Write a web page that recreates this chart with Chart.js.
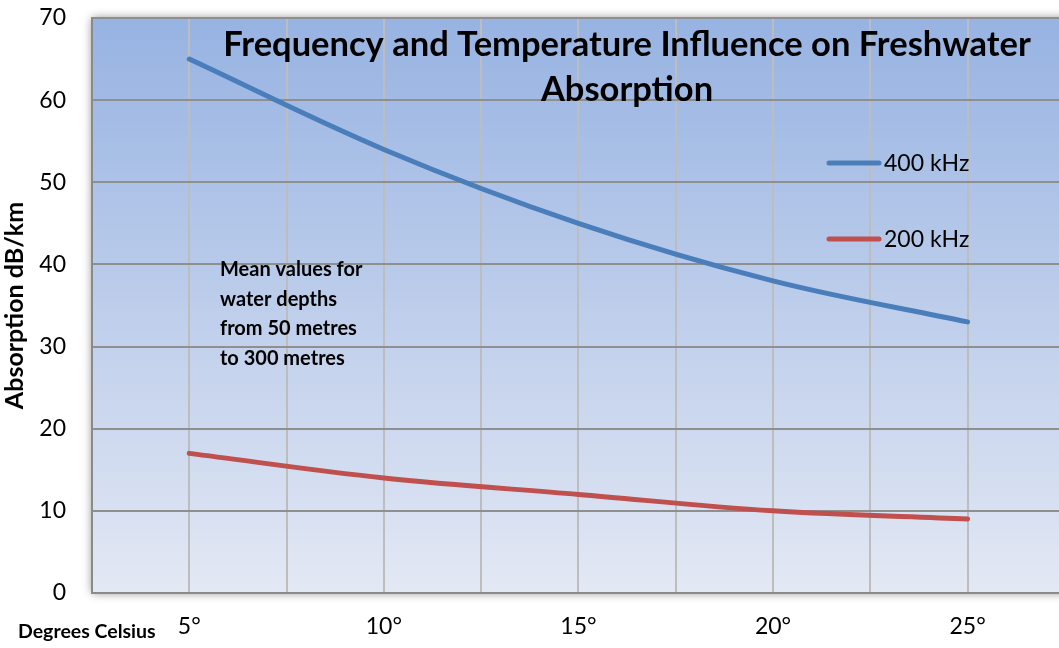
<!DOCTYPE html>
<html>
<head>
<meta charset="utf-8">
<script src="https://cdn.jsdelivr.net/npm/chart.js@4.4.1/dist/chart.umd.min.js"></script>
<style>
    html, body { margin: 0; padding: 0; background: #ffffff; }
    #wrap { width: 1059px; height: 648px; }
</style>
</head>
<body>
<div id="wrap"><canvas id="grafico"></canvas></div>
<script>
// datos
const temperaturas = [5, 10, 15, 20, 25];
const absorcion400 = [65, 54, 45, 38, 33];
const absorcion200 = [17, 14, 12, 10, 9];
const etiquetasSeries = ['400 kHz', '200 kHz'];
const ticksY = [0, 10, 20, 30, 40, 50, 60, 70];
const ticksX = [2.5, 5, 7.5, 10, 12.5, 15, 17.5, 20, 22.5, 25];
const tituloLineas = ['Frequency and Temperature Influence on Freshwater', 'Absorption'];
const notaLineas = ['Mean values for', 'water depths', 'from 50 metres', 'to 300 metres'];
const tituloX = 'Degrees Celsius';

const FUENTE = 'Lato, "Open Sans", sans-serif';
const colores = ['#4a7ebb', '#c0504d'];

function puntos(valores) { return temperaturas.map((t, i) => ({ x: t, y: valores[i] })); }

// fondo degradado + sombra del area de trazado
const fondoPlot = {
    id: 'fondoPlot',
    beforeDraw(chart) {
        const { ctx, chartArea: a } = chart;
        ctx.save();
        let g = ctx.createLinearGradient(0, a.top, 0, a.bottom);
        g.addColorStop(0, '#97b3e2'); g.addColorStop(1, '#e3e8f4');
        ctx.shadowColor = 'rgba(0,0,0,0.45)'; ctx.shadowBlur = 9;
        ctx.fillStyle = g;
        ctx.fillRect(a.left, a.top, a.right - a.left + 20, a.bottom - a.top);
        ctx.restore();
    }
};

// titulo, nota, leyenda y titulo del eje x dentro del lienzo
const textos = {
    id: 'textos',
    afterDraw(chart) {
        const { ctx } = chart;
        ctx.save();
        ctx.fillStyle = '#000';
        ctx.textBaseline = 'middle';

        ctx.font = 'bold 34.5px ' + FUENTE; ctx.textAlign = 'center';
        ctx.fillText(tituloLineas[0], 627, 45);
        ctx.fillText(tituloLineas[1], 627, 90);

        ctx.font = 'bold 20px ' + FUENTE; ctx.textAlign = 'left';
        notaLineas.forEach((l, i) => ctx.fillText(l, 220, 270 + i * 29.5));

        ctx.font = 'bold 19.5px ' + FUENTE; ctx.textAlign = 'left';
        ctx.fillText(tituloX, 18, 632);

        // leyenda
        chart.data.datasets.forEach((ds, i) => {
            let y = 163 + i * 76;
            ctx.strokeStyle = ds.borderColor; ctx.lineWidth = 5; ctx.lineCap = 'round';
            ctx.beginPath(); ctx.moveTo(829, y); ctx.lineTo(879, y); ctx.stroke();
            ctx.font = '23px ' + FUENTE; ctx.textAlign = 'left';
            ctx.fillText(ds.label, 884, y + 1);
        });
        ctx.restore();
    }
};

new Chart(document.getElementById('grafico'), {
    type: 'line',
    data: {
        datasets: [
            { label: etiquetasSeries[0], data: puntos(absorcion400), borderColor: colores[0], borderWidth: 5, pointRadius: 0, tension: 0.35, borderCapStyle: 'round' },
            { label: etiquetasSeries[1], data: puntos(absorcion200), borderColor: colores[1], borderWidth: 5, pointRadius: 0, tension: 0.35, borderCapStyle: 'round' }
        ]
    },
    options: {
        responsive: true, maintainAspectRatio: false, animation: false,
        layout: { padding: { top: 18, right: 0, left: 0, bottom: 0 } },
        plugins: { legend: { display: false }, tooltip: { enabled: false } },
        scales: {
            x: {
                type: 'linear', min: 2.5, max: 27.35,
                afterFit: s => { s.height = 55; s.paddingLeft = 0; s.paddingRight = 0; },
                afterBuildTicks: s => { s.ticks = ticksX.map(v => ({ value: v })); },
                ticks: {
                    color: '#000', padding: 20, maxRotation: 0, autoSkip: false,
                    font: { family: FUENTE, size: 23 },
                    callback: v => (Math.abs(v % 5) < 1e-6 ? v + '°' : '')
                },
                grid: { color: '#bdbdbd', lineWidth: 2, drawTicks: false },
                border: { color: '#8a8a8a', width: 2 }
            },
            y: {
                min: 0, max: 70,
                afterFit: s => { s.width = 92; s.paddingTop = 0; s.paddingBottom = 0; },
                afterBuildTicks: s => { s.ticks = ticksY.map(v => ({ value: v })); },
                ticks: { color: '#000', padding: 26, font: { family: FUENTE, size: 23 } },
                grid: { color: '#8f8f8f', lineWidth: 2, drawTicks: false },
                border: { color: '#8a8a8a', width: 2 },
                title: { display: true, text: 'Absorption dB/km', color: '#000', padding: 0, font: { family: FUENTE, size: 25, weight: 'bold' } }
            }
        }
    },
    plugins: [fondoPlot, textos]
});
</script>
</body>
</html>
